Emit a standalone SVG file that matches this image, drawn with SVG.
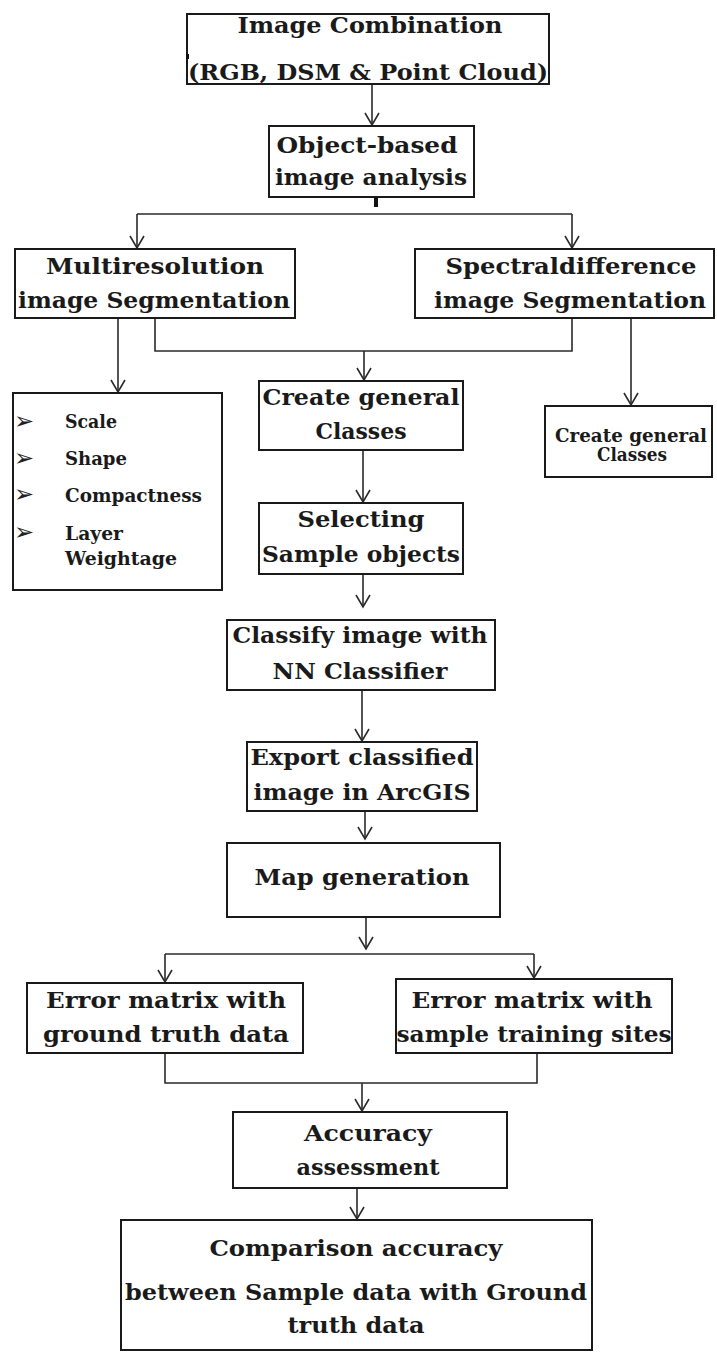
<svg xmlns="http://www.w3.org/2000/svg" width="717" height="1352" viewBox="0 0 717 1352">
<style>
.box{fill:#fff;stroke:#1a1a1a;stroke-width:2}
.t{font-family:"DejaVu Serif","Liberation Serif",serif;font-weight:bold;font-size:22px;fill:#1a1a1a;text-anchor:middle}
.s{font-family:"DejaVu Serif","Liberation Serif",serif;font-weight:bold;font-size:18px;fill:#1a1a1a}
.sm{font-family:"DejaVu Serif","Liberation Serif",serif;font-weight:bold;font-size:18px;fill:#1a1a1a;text-anchor:middle}
.b{font-family:"DejaVu Sans",sans-serif;font-size:24px;fill:#222}
.ln{fill:none;stroke:#2a2a2a;stroke-width:1.6}
.ar{fill:none;stroke:#2a2a2a;stroke-width:1.6;marker-end:url(#arr)}
</style>
<defs>
<marker id="arr" markerUnits="userSpaceOnUse" markerWidth="18" markerHeight="18" viewBox="-2 -9 18 18" refX="13" refY="0" orient="auto">
<path d="M1,-7 L13,0 L1,7" fill="none" stroke="#2a2a2a" stroke-width="1.6"/>
</marker>
</defs>
<rect width="717" height="1352" fill="#fff"/>

<g id="connectors">
<line class="ar" x1="372" y1="84" x2="372" y2="125"/>
<line x1="376" y1="197" x2="376" y2="207" stroke="#111" stroke-width="4"/>
<path class="ln" d="M137,214 H572"/>
<line class="ar" x1="137" y1="214" x2="137" y2="248"/>
<line class="ar" x1="572" y1="214" x2="572" y2="248"/>
<line class="ar" x1="118" y1="318" x2="118" y2="392"/>
<path class="ln" d="M155,318 V351 H572 V318"/>
<line class="ar" x1="364" y1="351" x2="364" y2="380"/>
<line class="ar" x1="631" y1="318" x2="631" y2="405"/>
<line class="ar" x1="363" y1="450" x2="363" y2="502"/>
<line class="ar" x1="363" y1="574" x2="363" y2="607"/>
<line class="ar" x1="362" y1="690" x2="362" y2="741"/>
<line class="ar" x1="365" y1="811" x2="365" y2="839"/>
<line class="ar" x1="366" y1="917" x2="366" y2="949"/>
<path class="ln" d="M165,954 H534"/>
<line class="ar" x1="165" y1="954" x2="165" y2="982"/>
<line class="ar" x1="534" y1="954" x2="534" y2="978"/>
<path class="ln" d="M165,1053 V1083 H537 V1053"/>
<line class="ar" x1="362" y1="1083" x2="362" y2="1111"/>
<line class="ar" x1="357" y1="1188" x2="357" y2="1219"/>
</g>

<g id="n1">
<rect class="box" x="187" y="14" width="362" height="70"/>
<rect x="186" y="54" width="3" height="5" fill="#111"/>
<text class="t" x="370" y="33" textLength="265" lengthAdjust="spacingAndGlyphs">Image Combination</text>
<text class="t" x="368" y="80" textLength="360" lengthAdjust="spacingAndGlyphs">(RGB, DSM &amp; Point Cloud)</text>
</g>

<g id="n2">
<rect class="box" x="269" y="126" width="205" height="71"/>
<text class="t" x="367" y="153" textLength="181" lengthAdjust="spacingAndGlyphs">Object-based</text>
<text class="t" x="371" y="185" textLength="192" lengthAdjust="spacingAndGlyphs">image analysis</text>
</g>

<g id="n3">
<rect class="box" x="15" y="249" width="280" height="69"/>
<text class="t" x="155" y="274" textLength="218" lengthAdjust="spacingAndGlyphs">Multiresolution</text>
<text class="t" x="154" y="308" textLength="272" lengthAdjust="spacingAndGlyphs">image Segmentation</text>
</g>

<g id="n4">
<rect class="box" x="415" y="249" width="299" height="69"/>
<text class="t" x="571" y="274" textLength="251" lengthAdjust="spacingAndGlyphs">Spectraldifference</text>
<text class="t" x="570" y="308" textLength="272" lengthAdjust="spacingAndGlyphs">image Segmentation</text>
</g>

<g id="n5">
<rect class="box" x="13" y="393" width="209" height="197"/>
<text class="b" x="14" y="429">➢</text>
<text class="b" x="14" y="466">➢</text>
<text class="b" x="14" y="502">➢</text>
<text class="b" x="14" y="540">➢</text>
<text class="s" x="65" y="428" textLength="52" lengthAdjust="spacingAndGlyphs">Scale</text>
<text class="s" x="65" y="465" textLength="62" lengthAdjust="spacingAndGlyphs">Shape</text>
<text class="s" x="65" y="502" textLength="137" lengthAdjust="spacingAndGlyphs">Compactness</text>
<text class="s" x="65" y="540" textLength="58" lengthAdjust="spacingAndGlyphs">Layer</text>
<text class="s" x="65" y="565" textLength="112" lengthAdjust="spacingAndGlyphs">Weightage</text>
</g>

<g id="n6">
<rect class="box" x="259" y="381" width="204" height="69"/>
<text class="t" x="361" y="405" textLength="197" lengthAdjust="spacingAndGlyphs">Create general</text>
<text class="t" x="361" y="439" textLength="91" lengthAdjust="spacingAndGlyphs">Classes</text>
</g>

<g id="n7">
<rect class="box" x="545" y="406" width="167" height="71"/>
<text class="sm" x="631" y="442" textLength="152" lengthAdjust="spacingAndGlyphs">Create general</text>
<text class="sm" x="632" y="461" textLength="70" lengthAdjust="spacingAndGlyphs">Classes</text>
</g>

<g id="n8">
<rect class="box" x="259" y="503" width="204" height="71"/>
<text class="t" x="361" y="527" textLength="127" lengthAdjust="spacingAndGlyphs">Selecting</text>
<text class="t" x="361" y="562" textLength="198" lengthAdjust="spacingAndGlyphs">Sample objects</text>
</g>

<g id="n9">
<rect class="box" x="227" y="620" width="268" height="70"/>
<text class="t" x="360" y="643" textLength="255" lengthAdjust="spacingAndGlyphs">Classify image with</text>
<text class="t" x="360" y="679" textLength="175" lengthAdjust="spacingAndGlyphs">NN Classifier</text>
</g>

<g id="n10">
<rect class="box" x="247" y="742" width="230" height="69"/>
<text class="t" x="362" y="765" textLength="223" lengthAdjust="spacingAndGlyphs">Export classified</text>
<text class="t" x="362" y="800" textLength="217" lengthAdjust="spacingAndGlyphs">image in ArcGIS</text>
</g>

<g id="n11">
<rect class="box" x="227" y="843" width="273" height="74"/>
<text class="t" x="362" y="885" textLength="215" lengthAdjust="spacingAndGlyphs">Map generation</text>
</g>

<g id="n12">
<rect class="box" x="27" y="983" width="276" height="70"/>
<text class="t" x="166" y="1008" textLength="240" lengthAdjust="spacingAndGlyphs">Error matrix with</text>
<text class="t" x="166" y="1042" textLength="246" lengthAdjust="spacingAndGlyphs">ground truth data</text>
</g>

<g id="n13">
<rect class="box" x="396" y="979" width="276" height="74"/>
<text class="t" x="532" y="1008" textLength="241" lengthAdjust="spacingAndGlyphs">Error matrix with</text>
<text class="t" x="534" y="1042" textLength="275" lengthAdjust="spacingAndGlyphs">sample training sites</text>
</g>

<g id="n14">
<rect class="box" x="233" y="1112" width="274" height="76"/>
<text class="t" x="368" y="1141" textLength="128" lengthAdjust="spacingAndGlyphs">Accuracy</text>
<text class="t" x="368" y="1175" textLength="143" lengthAdjust="spacingAndGlyphs">assessment</text>
</g>

<g id="n15">
<rect class="box" x="121" y="1220" width="471" height="130"/>
<text class="t" x="356" y="1256" textLength="293" lengthAdjust="spacingAndGlyphs">Comparison accuracy</text>
<text class="t" x="356" y="1300" textLength="462" lengthAdjust="spacingAndGlyphs">between Sample data with Ground</text>
<text class="t" x="356" y="1333" textLength="137" lengthAdjust="spacingAndGlyphs">truth data</text>
</g>
</svg>
